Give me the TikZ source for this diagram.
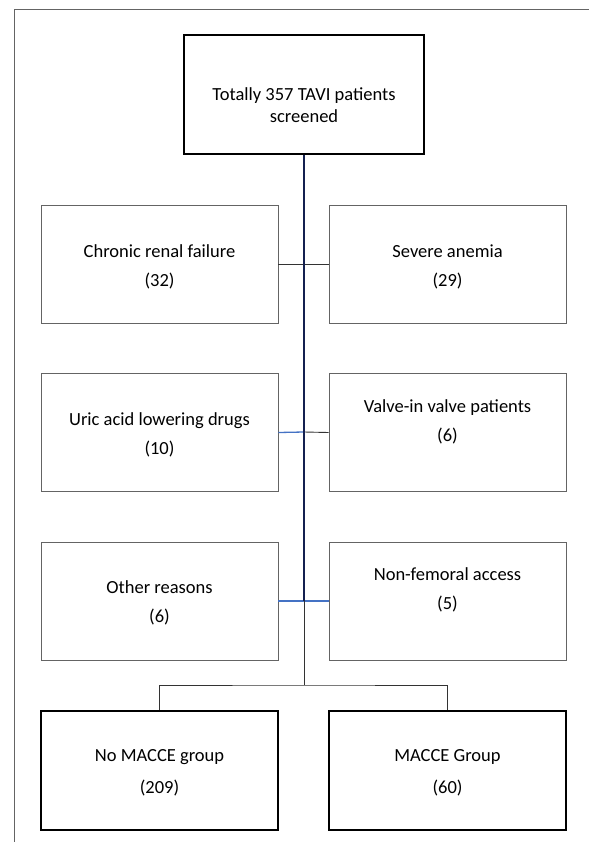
\documentclass[tikz,border=0pt]{standalone}
\usepackage{fontspec}
\setmainfont{Carlito}
\definecolor{accblue}{RGB}{68,114,196}
\definecolor{navyline}{RGB}{20,32,80}
\definecolor{boxgray}{RGB}{100,100,100}
\begin{document}
\begin{tikzpicture}[x=1pt,y=-1pt,
  midbox/.style={draw=boxgray,line width=0.9pt,minimum width=237pt,minimum height=118pt,inner sep=0pt},
  thickbox/.style={draw=black,line width=2.2pt,minimum width=237pt,minimum height=119pt,inner sep=0pt},
  topbox/.style={draw=black,line width=2pt,minimum width=240pt,minimum height=119pt,inner sep=0pt},
  txt/.style={align=center,font=\fontsize{18.5}{28.5}\selectfont,inner sep=0pt},
  txtb/.style={align=center,font=\fontsize{18.5}{32}\selectfont,inner sep=0pt},
  txtt/.style={align=center,font=\fontsize{18.5}{22}\selectfont,inner sep=0pt},
  conn/.style={draw=black!80,line width=0.9pt},
  bconn/.style={draw=accblue,line width=1.3pt}]
\useasboundingbox (0,0) rectangle (589,842);
% frame
\draw[boxgray,line width=0.8pt] (14,842) -- (14,9.5) -- (589,9.5);
% boxes
\node[topbox] (top) at (304,95) {};
\node[txtt] (toptxt) at (304,105) {Totally 357 TAVI patients\\screened};
\node[midbox] (l1) at (159.5,264) {};
\node[midbox] (r1) at (447.5,264) {};
\node[midbox] (l2) at (159.5,432.5) {};
\node[midbox] (r2) at (447.5,432.5) {};
\node[midbox] (l3) at (159.5,601) {};
\node[midbox] (r3) at (447.5,601) {};
\node[thickbox] (b1) at (159.5,770.5) {};
\node[thickbox] (b2) at (447.5,770.5) {};
% texts
\node[txt] (tl1) at (159.5,267) {Chronic renal failure\\(32)};
\node[txt] (tr1) at (447.5,267) {Severe anemia\\(29)};
\node[txt] (tl2) at (159.5,435) {Uric acid lowering drugs\\(10)};
\node[txt] (tr2) at (447.5,422) {Valve-in valve patients\\(6)};
\node[txt] (tl3) at (159.5,603) {Other reasons\\(6)};
\node[txt] (tr3) at (447.5,590) {Non-femoral access\\(5)};
\node[txtb] (tb1) at (159.5,773) {No MACCE group\\(209)};
\node[txtb] (tb2) at (447.5,773) {MACCE Group\\(60)};
% junctions
\coordinate (j1) at (304,264);
\coordinate (j2) at (304,432);
\coordinate (j3) at (304,600.5);
\coordinate (split) at (304,685);
% horizontal connectors
\draw[conn] (l1.east) -- (r1.west);
\draw[bconn] (l2.east) -- (j2);
\draw[conn] (j2) -- (r2.west);
\draw[bconn] (l3.east) -- (r3.west);
% main vertical
\draw[navyline,line width=1.6pt] (top.south) -- (j3);
\draw[conn] (j3) -- (split);
\draw[conn] (b1.north) |- (split) -| (b2.north);
\end{tikzpicture}
\end{document}
